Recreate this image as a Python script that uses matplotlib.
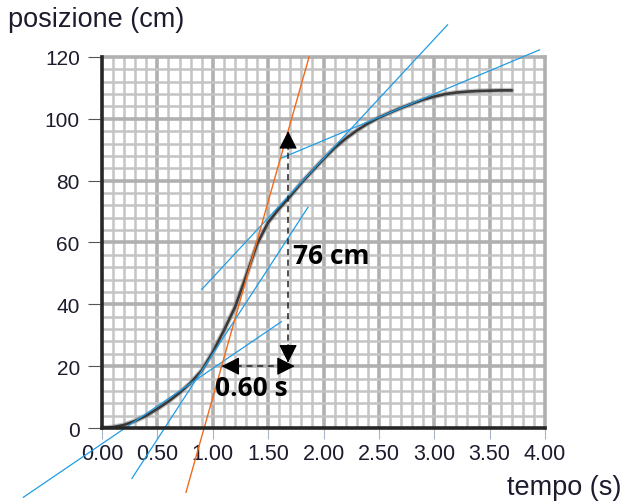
import numpy as np
import matplotlib
matplotlib.use("Agg")
import matplotlib.pyplot as plt

# position vs time readings (s, cm)
t_vals = [0.0, 0.1, 0.2, 0.3, 0.4, 0.5, 0.6, 0.7, 0.8, 0.9, 1.0, 1.1, 1.2,
          1.3, 1.4, 1.5, 1.6, 1.7, 1.8, 1.9, 2.0, 2.1, 2.2, 2.3, 2.4, 2.5,
          2.6, 2.7, 2.8, 2.9, 3.0, 3.1, 3.2, 3.3, 3.4, 3.5, 3.6, 3.7]
pos_vals = [0.0, 0.3, 1.0, 2.3, 4.0, 6.2, 8.6, 11.4, 14.6, 18.6, 24.5, 31.5,
            39.0, 49.0, 59.5, 66.5, 71.0, 75.0, 79.3, 83.2, 87.0, 90.6, 93.6,
            96.2, 98.5, 100.4, 102.0, 103.5, 104.9, 106.2, 107.2, 108.0,
            108.5, 108.8, 109.0, 109.1, 109.2, 109.2]

# tangent segments: (t_start, x_start, t_end, x_end)
tangent_segments = [
    (-0.71, -22.4, 1.62, 34.4),
    (0.27, -16.3, 1.86, 71.4),
    (0.90, 44.8, 3.12, 130.4),
    (1.62, 87.3, 3.95, 122.3),
]

# slope triangle on the steepest tangent
t_a, x_a = 1.08, 20.0
delta_t = 0.60
delta_x = 76.0
slope_range = (-20.8, 120.0)

x_ticks = [0.0, 0.5, 1.0, 1.5, 2.0, 2.5, 3.0, 3.5, 4.0]
x_tick_labels = ["0.00", "0.50", "1.00", "1.50", "2.00", "2.50", "3.00", "3.50", "4.00"]
y_ticks = [0, 20, 40, 60, 80, 100, 120]

fig = plt.figure(figsize=(6.24, 5.02), dpi=100)
ax = fig.add_axes([0.1635, 0.1454, 0.8734 - 0.1635, 0.8845 - 0.1454])
ax.set_xlim(0, 4.0)
ax.set_ylim(0, 120)

# graph-paper grid
for t in np.arange(0.1, 4.0, 0.1):
    major = abs(t / 0.5 - round(t / 0.5)) < 1e-6
    ax.axvline(t, color="#b0b0b0" if major else "#c4c4c4",
               lw=2.6 if major else 1.8, zorder=1)
for y in np.arange(4, 120, 4):
    major = y % 20 == 0
    ax.axhline(y, color="#b0b0b0" if major else "#c4c4c4",
               lw=2.6 if major else 1.8, zorder=1)

for side in ("top", "right"):
    ax.spines[side].set_color("#b0b0b0")
    ax.spines[side].set_linewidth(2.6)
for side in ("left", "bottom"):
    ax.spines[side].set_color("#262626")
    ax.spines[side].set_linewidth(2.6)
    ax.spines[side].set_zorder(6)

ax.set_xticks(x_ticks)
ax.set_xticklabels(x_tick_labels)
ax.set_yticks(y_ticks)
ax.tick_params(axis="x", length=8, width=0.8, color="#aab4c8", pad=3,
               labelsize=15.5, labelcolor="#1c1c2e")
ax.tick_params(axis="y", length=10, width=0.8, color="#555555", pad=6,
               labelsize=15, labelcolor="#1c1c2e")
for lab in ax.get_xticklabels() + ax.get_yticklabels():
    lab.set_fontfamily("Liberation Sans")

# position curve
ax.plot(t_vals, pos_vals, color="#8a8a8a", lw=3.6, alpha=0.55,
        solid_capstyle="round", zorder=3)
ax.plot(t_vals, pos_vals, color="#3a3a3a", lw=1.9,
        solid_capstyle="round", zorder=3)

# tangent lines
for t0, x0, t1, x1 in tangent_segments:
    ax.plot([t0, t1], [x0, x1], color="#1f9de6", lw=0.9, zorder=4, clip_on=False)

slope = delta_x / delta_t
t_lo = t_a + (slope_range[0] - x_a) / slope
t_hi = t_a + (slope_range[1] - x_a) / slope
ax.plot([t_lo, t_hi], list(slope_range), color="#f26a1b", lw=1.0, zorder=4,
        clip_on=False)

# dashed slope triangle with arrowheads
t_b = t_a + delta_t
x_b = x_a + delta_x
ax.plot([t_a + 0.03, t_b + 0.03], [x_a, x_a], color="#202020", lw=1.1,
        ls=(0, (4, 3)), zorder=5)
ax.plot([t_b, t_b], [x_a + 1.5, x_b - 1.5], color="#202020", lw=1.1,
        ls=(0, (4, 3)), zorder=5)
head = dict(arrowstyle="-|>,head_length=0.75,head_width=0.38", color="black",
            lw=0.8, shrinkA=0, shrinkB=0, mutation_scale=15)
ax.annotate("", xy=(t_a, x_a), xytext=(t_a + 0.08, x_a), arrowprops=head, zorder=6)
ax.annotate("", xy=(t_b + 0.06, x_a), xytext=(t_b - 0.02, x_a), arrowprops=head, zorder=6)
ax.annotate("", xy=(t_b, x_b), xytext=(t_b, x_b - 6), arrowprops=head, zorder=6)
ax.annotate("", xy=(t_b, x_a + 1.2), xytext=(t_b, x_a + 7), arrowprops=head, zorder=6)

ax.text(t_b + 0.04, 55.8, f"{delta_x:.0f} cm", fontsize=19, fontweight="bold",
        fontfamily="Open Sans", va="center", ha="left", zorder=7)
ax.text(1.02, 13.0, f"{delta_t:.2f} s", fontsize=19, fontweight="bold",
        fontfamily="Open Sans", va="center", ha="left", zorder=7)

fig.text(8 / 624, 1 - 20 / 502, "posizione (cm)", fontsize=19.5, color="#1c1c2e",
         fontfamily="Liberation Sans", ha="left", va="center")
fig.text(621 / 624, 1 - 488 / 502, "tempo (s)", fontsize=19.5, color="#1c1c2e",
         fontfamily="Liberation Sans", ha="right", va="center")

fig.savefig("out.png", dpi=100)
